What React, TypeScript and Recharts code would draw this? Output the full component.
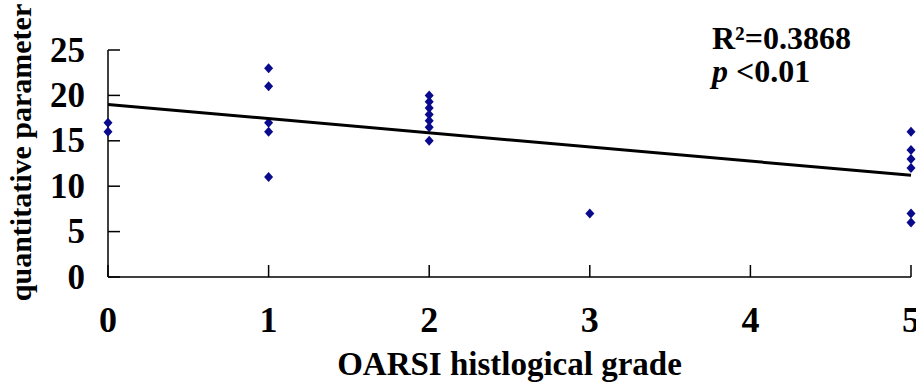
import React from "react";
import { ScatterChart, Scatter, XAxis, YAxis, Label } from "recharts";

// measured values per OARSI grade
const grade0 = [17, 16];
const grade1 = [23, 21, 17, 16, 11];
const grade2 = [20, 19.3, 18.6, 17.9, 17.2, 16.5, 15];
const grade3 = [7];
const grade5 = [16, 14, 13, 12, 7, 6];

const fitX = [0, 5];
const fitY = [19.0, 11.2];

const xTicks = [0, 1, 2, 3, 4, 5];
const yTicks = [0, 5, 10, 15, 20, 25];

const toPoints = (grade: number, vals: number[]) =>
  vals.map((v) => ({ x: grade, y: v }));

const points = [
  ...toPoints(0, grade0),
  ...toPoints(1, grade1),
  ...toPoints(2, grade2),
  ...toPoints(3, grade3),
  ...toPoints(5, grade5),
];
const fitLine = fitX.map((x, i) => ({ x, y: fitY[i] }));

const FONT = '"Liberation Serif", "Times New Roman", serif';
const Y_GAP = 23;
const X_GAP = 55;

const Diamond = (props: any) => {
  const { cx, cy } = props;
  if (cx == null || cy == null) return <g />;
  const w = 4.5;
  const h = 5;
  return (
    <polygon
      points={`${cx},${cy - h} ${cx + w},${cy} ${cx},${cy + h} ${cx - w},${cy}`}
      fill="#0a0a8c"
    />
  );
};

const YTick = (props: any) => {
  const { x, y, payload } = props;
  const axisX = x + Y_GAP;
  return (
    <g>
      <line x1={axisX} x2={axisX + 12} y1={y} y2={y} stroke="#000" strokeWidth={1.5} />
      <text
        x={x}
        y={y}
        textAnchor="end"
        dominantBaseline="central"
        fontFamily={FONT}
        fontWeight="bold"
        fontSize={35}
        fill="#000"
      >
        {payload.value}
      </text>
    </g>
  );
};

const XTick = (props: any) => {
  const { x, y, payload } = props;
  const axisY = y - X_GAP;
  return (
    <g>
      <line x1={x} x2={x} y1={axisY} y2={axisY - 12} stroke="#000" strokeWidth={1.5} />
      <text
        x={x}
        y={y}
        textAnchor="middle"
        fontFamily={FONT}
        fontWeight="bold"
        fontSize={36}
        fill="#000"
      >
        {payload.value}
      </text>
    </g>
  );
};

const noteStyle: React.CSSProperties = {
  position: "absolute",
  left: 712,
  fontFamily: FONT,
  fontWeight: "bold",
  fontSize: 32,
  lineHeight: "28px",
  whiteSpace: "nowrap",
  color: "#000",
};

const App: React.FC = () => {
  return (
    <div
      style={{
        position: "absolute",
        left: 0,
        top: 0,
        width: 916,
        height: 382,
        background: "#fff",
        overflow: "hidden",
      }}
    >
      <ScatterChart
        width={916}
        height={382}
        margin={{ top: 50, right: 5, bottom: 0, left: 0 }}
      >
        <XAxis
          type="number"
          dataKey="x"
          domain={[0, 5]}
          ticks={xTicks}
          interval={0}
          height={105}
          tickSize={0}
          tickMargin={X_GAP}
          tickLine={false}
          axisLine={{ stroke: "#000", strokeWidth: 1.5 }}
          tick={<XTick />}
        >
          <Label
            content={({ viewBox }: any) => (
              <text
                x={viewBox.x + viewBox.width / 2}
                y={viewBox.y + viewBox.height - 7}
                textAnchor="middle"
                fontFamily={FONT}
                fontWeight="bold"
                fontSize={33}
                fill="#000"
              >
                OARSI histlogical grade
              </text>
            )}
          />
        </XAxis>
        <YAxis
          type="number"
          dataKey="y"
          domain={[0, 25]}
          ticks={yTicks}
          interval={0}
          width={108}
          tickSize={0}
          tickMargin={Y_GAP}
          tickLine={false}
          axisLine={{ stroke: "#000", strokeWidth: 1.5 }}
          tick={<YTick />}
        >
          <Label
            content={({ viewBox }: any) => {
              const cx = viewBox.x + 31;
              const cy = viewBox.y + viewBox.height / 2 - 11;
              return (
                <text
                  x={cx}
                  y={cy}
                  transform={`rotate(-90, ${cx}, ${cy})`}
                  textAnchor="middle"
                  fontFamily={FONT}
                  fontWeight="bold"
                  fontSize={30}
                  fill="#000"
                >
                  quantitative parameter
                </text>
              );
            }}
          />
        </YAxis>
        <Scatter
          data={points}
          shape={<Diamond />}
          isAnimationActive={false}
        />
        <Scatter
          data={fitLine}
          line={{ stroke: "#000", strokeWidth: 3 }}
          shape={() => <g />}
          isAnimationActive={false}
        />
      </ScatterChart>
      <div style={{ ...noteStyle, top: 24 }}>R²=0.3868</div>
      <div style={{ ...noteStyle, top: 57 }}>
        <i>p</i> &lt;0.01
      </div>
    </div>
  );
};

export default App;
